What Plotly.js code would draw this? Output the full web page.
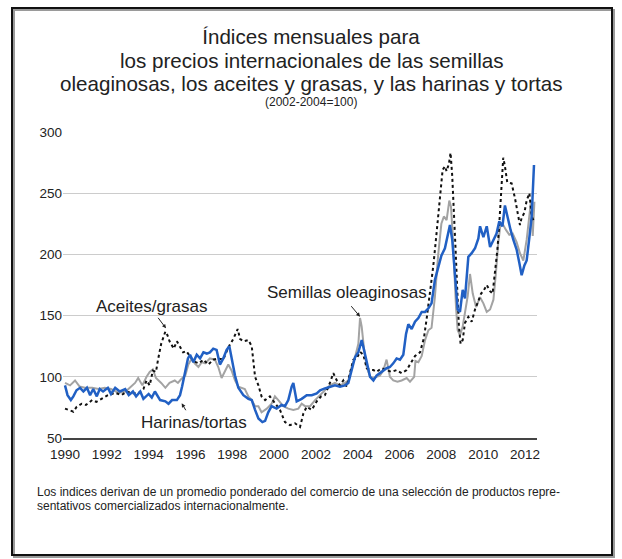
<!DOCTYPE html>
<html>
<head>
<meta charset="utf-8">
<script src="https://cdn.plot.ly/plotly-3.0.1.min.js"></script>
<style>html,body{margin:0;padding:0;background:#fff;}#chart{width:622px;height:559px;}</style>
</head>
<body>
<div id="chart"></div>
<script>
// ---- Data ----
const mealsYears = [1990.00,1990.12,1990.28,1990.40,1990.55,1990.72,1990.88,1991.05,1991.20,1991.35,1991.52,1991.66,1991.82,1992.05,1992.20,1992.40,1992.62,1992.88,1993.05,1993.25,1993.40,1993.60,1993.75,1994.00,1994.15,1994.30,1994.55,1994.80,1994.95,1995.12,1995.35,1995.50,1995.60,1995.75,1995.88,1995.98,1996.14,1996.30,1996.46,1996.62,1996.78,1996.93,1997.09,1997.25,1997.41,1997.57,1997.73,1997.86,1997.97,1998.13,1998.29,1998.53,1998.77,1998.93,1999.09,1999.25,1999.44,1999.57,1999.72,1999.88,2000.12,2000.36,2000.52,2000.68,2000.84,2000.92,2001.08,2001.32,2001.56,2001.80,2002.04,2002.20,2002.43,2002.67,2002.91,2003.15,2003.39,2003.55,2003.71,2003.87,2004.03,2004.19,2004.30,2004.43,2004.59,2004.75,2004.90,2005.06,2005.22,2005.38,2005.54,2005.70,2005.86,2006.02,2006.18,2006.31,2006.42,2006.58,2006.74,2006.90,2007.06,2007.22,2007.38,2007.53,2007.69,2007.85,2008.00,2008.17,2008.33,2008.41,2008.52,2008.62,2008.70,2008.78,2008.89,2009.02,2009.13,2009.29,2009.45,2009.61,2009.77,2009.85,2010.01,2010.17,2010.33,2010.49,2010.64,2010.77,2010.92,2011.04,2011.15,2011.31,2011.44,2011.60,2011.73,2011.84,2011.97,2012.08,2012.21,2012.32,2012.43];
const mealsIndex = [93,85,81,84,89,91,88,91,85,90,84,90,88,91,86,91,88,90,85,88,84,88,82,86,83,88,81,80,78,81,81,85,92,105,115,118,112,118,115,120,119,120,123,122,110,115,122,125,115,101,91,85,82,81,73,66,63,64,71,76,74,77,76,81,92,95,80,82,85,85,86.5,89,90.5,92,93,92,93,95,105,116,120,130,122,111,100,97,101,103,105,107,108,111,115,114,118,135,143,139,145,148,153,153,156,160,179,190,199,205,217,224,212,190,171,155,153,171,164,198,201,205,213,223,214,223,206,212,217,227,223,240,231,220,212,204,193,183,191,195,214,231,273];

const seedsYears = [1990.00,1990.24,1990.48,1990.70,1990.95,1991.30,1991.60,1991.90,1992.20,1992.55,1992.90,1993.10,1993.35,1993.50,1993.70,1993.90,1994.05,1994.20,1994.35,1994.60,1994.80,1995.00,1995.25,1995.40,1995.55,1995.75,1995.90,1996.06,1996.20,1996.38,1996.54,1996.70,1996.93,1997.17,1997.33,1997.49,1997.65,1997.81,1997.97,1998.13,1998.29,1998.45,1998.60,1998.77,1998.93,1999.09,1999.25,1999.40,1999.65,1999.88,2000.04,2000.20,2000.44,2000.68,2000.92,2001.16,2001.32,2001.48,2001.72,2001.96,2002.20,2002.43,2002.67,2002.91,2003.15,2003.39,2003.55,2003.71,2003.87,2004.03,2004.11,2004.19,2004.30,2004.43,2004.59,2004.75,2004.90,2005.06,2005.22,2005.38,2005.54,2005.70,2005.90,2006.10,2006.34,2006.50,2006.70,2006.76,2006.90,2007.06,2007.22,2007.38,2007.53,2007.69,2007.85,2008.00,2008.12,2008.25,2008.38,2008.46,2008.54,2008.62,2008.70,2008.78,2008.89,2009.02,2009.13,2009.26,2009.37,2009.50,2009.66,2009.85,2010.01,2010.17,2010.33,2010.49,2010.61,2010.72,2010.83,2010.96,2011.09,2011.25,2011.41,2011.60,2011.76,2011.92,2012.08,2012.21,2012.29,2012.37,2012.45];
const seedsIndex = [95,93,97,92,91,91,90,91,90,87,88,91,95,99,93,100,104,106,99,95,91,95,97,95,98,101,110,115,111,108,112,111,115,114,108,99,104,110,105,97,92,91,90,84,81,76,76,71,74,78,84,81,76,74,73,74,78,76,76,81,85,89,93,95,93,95,97,108,116,127,148,141,123,108,100,99,100,101,105,114,100,97,96,97,99,96,100,113,112,117,130,138,140,165,200,225,231,228,244,239,217,185,157,138,134,141,152,166,184,168,157,165,160,153,155,163,185,209,225,224,220,216,217,210,201,195,212,231,244,215,243];

const oilsYears = [1990.00,1990.16,1990.40,1990.56,1990.80,1991.00,1991.30,1991.50,1991.75,1992.05,1992.40,1992.70,1992.95,1993.20,1993.50,1993.75,1993.90,1994.05,1994.20,1994.35,1994.45,1994.60,1994.80,1994.90,1995.00,1995.20,1995.35,1995.50,1995.65,1995.80,1995.95,1996.10,1996.25,1996.40,1996.62,1996.85,1997.09,1997.33,1997.57,1997.81,1998.05,1998.26,1998.37,1998.53,1998.77,1998.93,1999.09,1999.25,1999.40,1999.57,1999.80,2000.04,2000.28,2000.52,2000.76,2001.00,2001.24,2001.40,2001.56,2001.80,2002.04,2002.25,2002.43,2002.67,2002.83,2003.00,2003.15,2003.31,2003.47,2003.63,2003.79,2003.95,2004.11,2004.27,2004.43,2004.59,2004.75,2004.90,2005.14,2005.38,2005.62,2005.86,2006.10,2006.34,2006.58,2006.74,2006.98,2007.17,2007.30,2007.46,2007.61,2007.74,2007.85,2007.97,2008.06,2008.17,2008.25,2008.36,2008.44,2008.52,2008.60,2008.68,2008.76,2008.84,2008.92,2009.02,2009.13,2009.29,2009.45,2009.61,2009.77,2009.90,2010.01,2010.17,2010.33,2010.45,2010.56,2010.68,2010.77,2010.88,2010.96,2011.04,2011.15,2011.36,2011.52,2011.68,2011.76,2011.84,2011.97,2012.08,2012.21,2012.32,2012.43];
const oilsIndex = [74,73,71.5,75.5,78,77,81,79.5,82,85,87,85,88,86.5,86.5,90,97,93,105,104,114,127,137,134,129,123,129,125,120,121,117,114,112,111,114,110,114,115,114,124,131,139,131,129,130,125,100,93,84,81,84,78,73,63,60.5,62,59,70,75.5,73,80,84,85,95,103,97,93,97,92,103,114,115,120.5,118,107,105.5,105.5,104,107,105.5,104,105.5,103,105.5,112,117,120,132,148,168,190,212,231,250,269,272,268,274,283,264,239,204,171,141,127,130,144,149,145,155,162,168,170,175,170,168,185,204,225,258,279,272,259,258,246,231,224,230,234,244,250,231,227];

const xTickYears = [1990,1992,1994,1996,1998,2000,2002,2004,2006,2008,2010,2012];
const yTickValues = [50,100,150,200,250,300];

const titleLines = ['Índices mensuales para','los precios internacionales de las semillas','oleaginosas, los aceites y grasas, y las harinas y tortas'];
const subtitleText = '(2002-2004=100)';
const footnoteLines = ['Los indices derivan de un promedio ponderado del comercio de una selección de productos repre-','sentativos comercializados internacionalmente.'];

// ---- Chart ----
const FONT = 'Liberation Sans, Arial, sans-serif';
const traces = [
  {x: seedsYears, y: seedsIndex, type: 'scatter', mode: 'lines', name: 'Semillas oleaginosas',
   line: {color: '#a3a3a3', width: 2}},
  {x: oilsYears, y: oilsIndex, type: 'scatter', mode: 'lines', name: 'Aceites/grasas',
   line: {color: '#111111', width: 2, dash: 'dot'}},
  {x: mealsYears, y: mealsIndex, type: 'scatter', mode: 'lines', name: 'Harinas/tortas',
   line: {color: '#2160c4', width: 2.5}}
];

const L = 63, T = 132, W = 474, H = 306;
const px = v => (v - L) / W;
const py = v => (T + H - v) / H;
const TITLE_SIZE = 20.6;

const layout = {
  width: 622, height: 559,
  margin: {l: L, r: 622 - L - W, t: T, b: 559 - T - H, pad: 0},
  paper_bgcolor: '#ffffff', plot_bgcolor: '#ffffff',
  showlegend: false,
  font: {family: FONT, color: '#222', size: 13},
  title: {text: titleLines[0], font: {family: FONT, size: TITLE_SIZE, color: '#222'},
          x: 0.5, xanchor: 'center', xref: 'container', y: 1 - 37/559, yanchor: 'middle', yref: 'container'},
  xaxis: {range: [1989.904, 2012.574], tickvals: xTickYears, ticktext: xTickYears.map(String),
          showgrid: false, zeroline: false, showline: true, linecolor: '#444', linewidth: 1.5,
          ticks: '', ticklabelstandoff: 3, tickfont: {size: 13.5, color: '#222'}, fixedrange: true},
  yaxis: {range: [50, 300], tickvals: yTickValues, ticktext: yTickValues.map(String),
          showgrid: true, gridcolor: '#cccccc', gridwidth: 1, zeroline: false, showline: false,
          ticks: '', tickfont: {size: 13.5, color: '#222'}, fixedrange: true},
  shapes: [
    {type: 'rect', xref: 'paper', yref: 'paper', x0: px(14), x1: px(614), y0: py(557), y1: py(10),
     line: {color: '#9a9a9a', width: 2}, fillcolor: 'rgba(0,0,0,0)', layer: 'above'},
    {type: 'rect', xref: 'paper', yref: 'paper', x0: px(12), x1: px(612), y0: py(555), y1: py(8),
     line: {color: '#111', width: 2}, fillcolor: 'rgba(0,0,0,0)', layer: 'above'}
  ],
  annotations: [
    {xref: 'paper', yref: 'paper', x: px(311), y: py(60.5), text: titleLines[1], showarrow: false,
     font: {size: TITLE_SIZE, color: '#222'}, xanchor: 'center', yanchor: 'middle'},
    {xref: 'paper', yref: 'paper', x: px(311), y: py(84), text: titleLines[2], showarrow: false,
     font: {size: TITLE_SIZE, color: '#222'}, xanchor: 'center', yanchor: 'middle'},
    {xref: 'paper', yref: 'paper', x: px(311), y: py(102.5), text: subtitleText, showarrow: false,
     font: {size: 12, color: '#222'}, xanchor: 'center', yanchor: 'middle'},
    {xref: 'paper', yref: 'paper', x: px(35), y: py(491.5), text: footnoteLines[0], showarrow: false,
     font: {size: 12, color: '#222'}, xanchor: 'left', yanchor: 'middle', align: 'left'},
    {xref: 'paper', yref: 'paper', x: px(35), y: py(505.5), text: footnoteLines[1], showarrow: false,
     font: {size: 12, color: '#222'}, xanchor: 'left', yanchor: 'middle', align: 'left'},
    {x: 1994.16, y: 157.8, text: 'Aceites/grasas', showarrow: false, font: {size: 17, color: '#222'},
     xanchor: 'center', yanchor: 'middle'},
    {x: 1996.15, y: 62.7, text: 'Harinas/tortas', showarrow: false, font: {size: 17, color: '#222'},
     xanchor: 'center', yanchor: 'middle'},
    {x: 2003.51, y: 168.5, text: 'Semillas oleaginosas', showarrow: false, font: {size: 17, color: '#222'},
     xanchor: 'center', yanchor: 'middle'},
    {x: 1994.83, y: 139.6, text: '', showarrow: true, ax: -9, ay: -12, arrowhead: 2, arrowsize: 0.8, arrowwidth: 1, arrowcolor: '#222'},
    {x: 1995.58, y: 78.4, text: '', showarrow: true, ax: 5, ay: 8.5, arrowhead: 2, arrowsize: 0.8, arrowwidth: 1, arrowcolor: '#222'},
    {x: 2004.11, y: 149.1, text: '', showarrow: true, ax: -10, ay: -12, arrowhead: 2, arrowsize: 0.8, arrowwidth: 1, arrowcolor: '#222'}
  ]
};

Plotly.newPlot('chart', traces, layout, {displayModeBar: false, staticPlot: true});
</script>
</body>
</html>
